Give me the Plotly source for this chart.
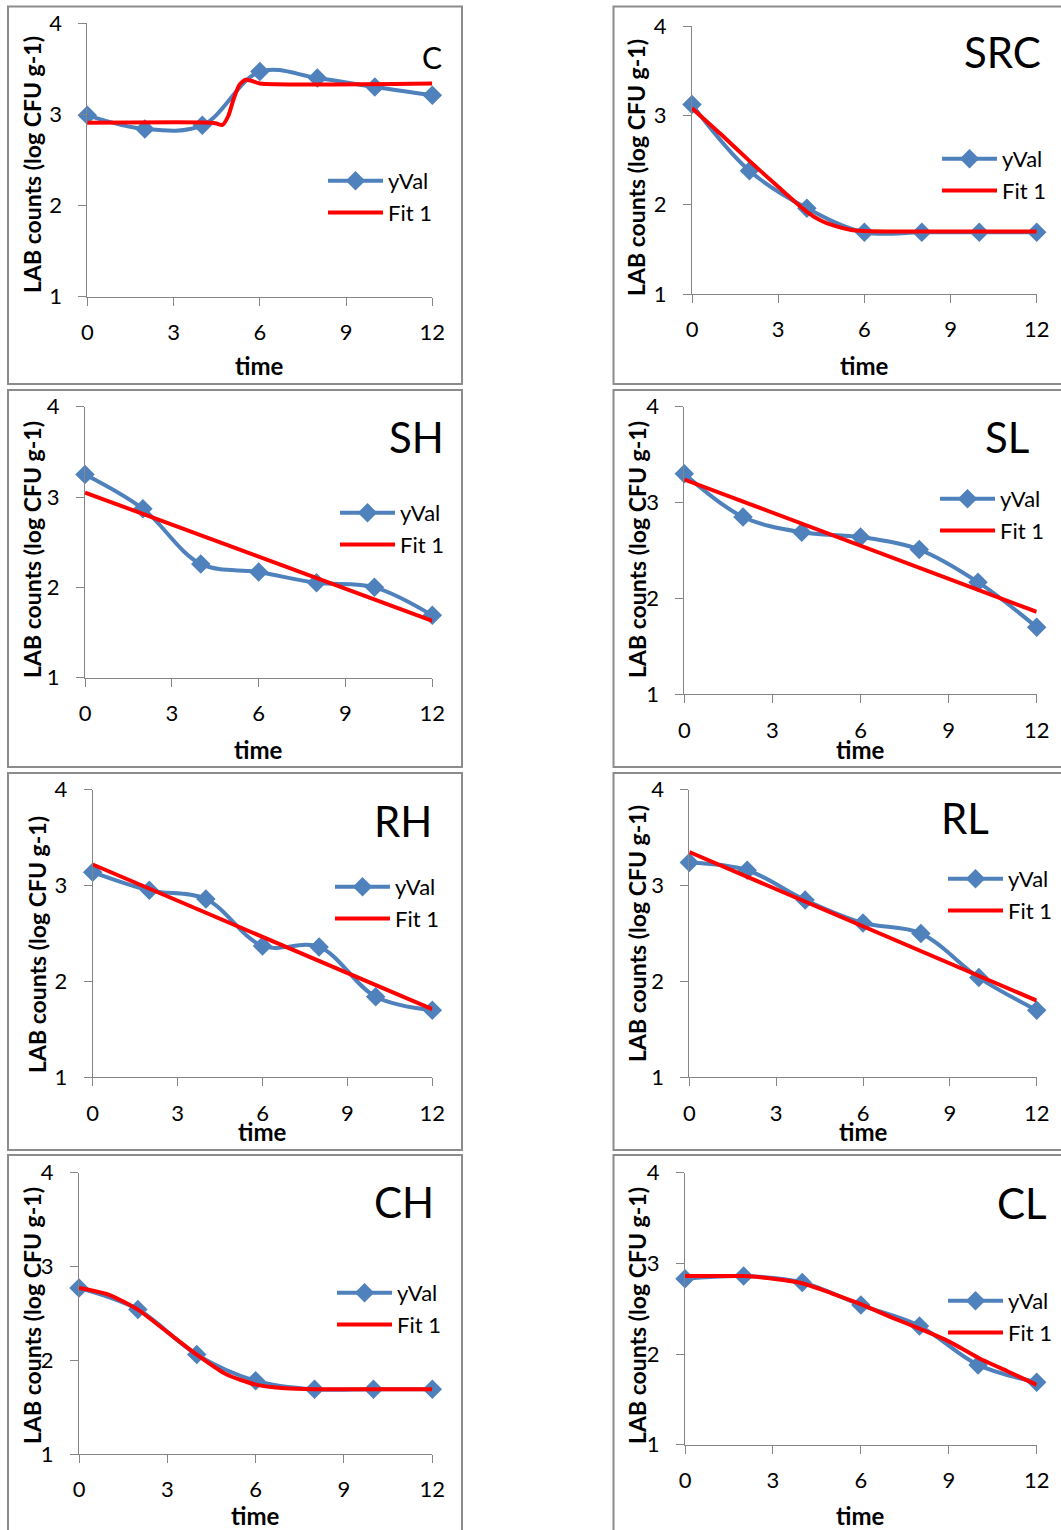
import plotly.graph_objects as go

# Sampling times (h) and measured LAB counts for each treatment
time_pts = [0, 2, 4, 6, 8, 10, 12]

panels = ["C", "SRC", "SH", "SL", "RH", "RL", "CH", "CL"]

yval_C = [2.99, 2.84, 2.88, 3.47, 3.40, 3.30, 3.21]
yval_SRC = [3.12, 2.38, 1.96, 1.69, 1.69, 1.69, 1.69]
yval_SH = [3.25, 2.87, 2.26, 2.17, 2.05, 2.00, 1.69]
yval_SL = [3.30, 2.85, 2.69, 2.64, 2.51, 2.17, 1.70]
yval_RH = [3.14, 2.95, 2.86, 2.37, 2.36, 1.84, 1.70]
yval_RL = [3.24, 3.16, 2.85, 2.61, 2.50, 2.04, 1.70]
yval_CH = [2.77, 2.54, 2.06, 1.78, 1.69, 1.69, 1.69]
yval_CL = [2.83, 2.86, 2.79, 2.54, 2.31, 1.88, 1.69]

# Fitted model curves (time, value) for each treatment
fit_x_C = [0, 4.3, 4.5, 4.7, 4.9, 5.1, 5.3, 5.5, 5.7, 6.0, 12]
fit_y_C = [2.91, 2.91, 2.90, 2.885, 2.98, 3.18, 3.33, 3.38, 3.37, 3.34, 3.34]
fit_x_SRC = [0, 1, 2, 3, 4, 4.5, 5, 5.5, 6, 7, 12]
fit_y_SRC = [3.08, 2.79, 2.49, 2.20, 1.92, 1.82, 1.76, 1.72, 1.705, 1.70, 1.70]
fit_x_SH = [0, 12]
fit_y_SH = [3.05, 1.63]
fit_x_SL = [0, 12]
fit_y_SL = [3.24, 1.86]
fit_x_RH = [0, 12]
fit_y_RH = [3.22, 1.71]
fit_x_RL = [0, 12]
fit_y_RL = [3.35, 1.80]
fit_x_CH = [0, 1, 2, 3, 4, 5, 6, 7, 8, 12]
fit_y_CH = [2.77, 2.70, 2.54, 2.30, 2.06, 1.85, 1.74, 1.70, 1.69, 1.69]
fit_x_CL = [0, 1, 2, 3, 4, 5, 6, 7, 8, 9, 10, 11, 12]
fit_y_CL = [2.86, 2.86, 2.86, 2.83, 2.78, 2.67, 2.55, 2.41, 2.28, 2.14, 1.96, 1.81, 1.66]

x_ticks = [0, 3, 6, 9, 12]
y_ticks = [1, 2, 3, 4]

yvals = [yval_C, yval_SRC, yval_SH, yval_SL, yval_RH, yval_RL, yval_CH, yval_CL]
fits_x = [fit_x_C, fit_x_SRC, fit_x_SH, fit_x_SL, fit_x_RH, fit_x_RL, fit_x_CH, fit_x_CL]
fits_y = [fit_y_C, fit_y_SRC, fit_y_SH, fit_y_SL, fit_y_RH, fit_y_RL, fit_y_CH, fit_y_CL]

W, H = 1061, 1530
FONT = "Lato"
BLUE = "#4F81BD"
RED = "#FF0000"
GREY = "#868686"

# Plot-area pixel boxes: (left, right, top, bottom)
areas = [
    (87.3, 432.3, 23.3, 296.7),
    (692.0, 1036.7, 26.0, 294.0),
    (85.0, 432.3, 406.7, 677.7),
    (684.3, 1036.7, 406.7, 694.3),
    (92.7, 432.3, 789.7, 1077.3),
    (689.3, 1036.7, 789.7, 1077.3),
    (79.0, 432.3, 1172.7, 1454.0),
    (685.0, 1036.7, 1172.7, 1444.7),
]
# y-title centre (x, y), panel label (right x, centre y, size), legend (left x, top y), time label y
ytitle_pos = [(32, 165), (636, 168), (32, 550), (637, 550), (37, 945), (637, 934), (32, 1316), (637, 1316)]
label_pos = [(444, 57, 30), (1043, 52, 42), (446, 437, 42), (1031, 437, 42),
             (434, 821, 42), (991, 818, 42), (436, 1202, 42), (1049, 1203, 42)]
legend_pos = [(323, 160), (937, 138), (335, 492), (935, 478), (330, 866), (943, 858), (332, 1272), (943, 1280)]
time_y = [365, 365, 749, 749, 1131, 1131, 1515, 1515]

# Chart boxes: (left, right, top, bottom)
boxes = [
    (8, 462, 6.5, 384), (613.5, 1075, 6.5, 384),
    (8, 462, 390, 767), (613.5, 1075, 390, 767),
    (8, 462, 773, 1150), (613.5, 1075, 773, 1150),
    (8, 462, 1155, 1545), (613.5, 1075, 1155, 1545),
]

fig = go.Figure()
layout = dict(
    width=W, height=H,
    margin=dict(l=0, r=0, t=0, b=0, pad=0, autoexpand=False),
    paper_bgcolor="white", plot_bgcolor="white",
    font=dict(family=FONT, size=20, color="black"),
    shapes=[], annotations=[],
)

for i, name in enumerate(panels):
    k = i + 1
    sfx = "" if k == 1 else str(k)
    leg = "legend" + sfx
    xl, xr, yt, yb = areas[i]

    fig.add_trace(go.Scatter(
        x=time_pts, y=yvals[i], name="yVal", mode="lines+markers",
        line=dict(color=BLUE, width=4, shape="spline", smoothing=1),
        marker=dict(symbol="diamond", size=15, color=BLUE),
        xaxis="x" + sfx, yaxis="y" + sfx, legend=leg, legendgroup="d%d" % k,
        cliponaxis=False,
    ))
    fig.add_trace(go.Scatter(
        x=fits_x[i], y=fits_y[i], name="Fit 1", mode="lines",
        line=dict(color=RED, width=4, shape="spline", smoothing=0.6),
        xaxis="x" + sfx, yaxis="y" + sfx, legend=leg, legendgroup="f%d" % k,
        cliponaxis=False,
    ))

    common = dict(showline=True, linecolor=GREY, linewidth=1, ticks="outside",
                  ticklen=8, tickcolor=GREY, tickwidth=1, showgrid=False,
                  zeroline=False, fixedrange=True, automargin=False,
                  tickfont=dict(family=FONT, size=22, color="black"))
    layout["xaxis" + sfx] = dict(
        domain=[xl / W, xr / W], range=[0, 12], tickvals=x_ticks,
        anchor="y" + sfx, ticklabelstandoff=8, **common)
    layout["yaxis" + sfx] = dict(
        domain=[1 - yb / H, 1 - yt / H], range=[1, 4], tickvals=y_ticks,
        anchor="x" + sfx, ticklabelstandoff=12, **common)

    lx, ly = legend_pos[i]
    layout[leg] = dict(
        x=lx / W, y=1 - ly / H, xanchor="left", yanchor="top",
        bgcolor="rgba(0,0,0,0)", font=dict(family=FONT, size=22, color="black"),
        itemwidth=55, tracegroupgap=3, traceorder="normal",
    )

    bx0, bx1, by0, by1 = boxes[i]
    layout["shapes"].append(dict(
        type="rect", xref="paper", yref="paper",
        x0=bx0 / W, x1=bx1 / W, y0=1 - by1 / H, y1=1 - by0 / H,
        line=dict(color="#8C8C8C", width=2), fillcolor="rgba(0,0,0,0)", layer="below",
    ))

    tx, ty = ytitle_pos[i]
    layout["annotations"].append(dict(
        text="<b>LAB counts (log CFU g-1)</b>", textangle=-90,
        x=tx / W, y=1 - ty / H, xref="paper", yref="paper",
        xanchor="center", yanchor="middle", showarrow=False,
        font=dict(family=FONT, size=23, color="black"),
    ))
    layout["annotations"].append(dict(
        text="<b>time</b>", x=((xl + xr) / 2) / W, y=1 - time_y[i] / H,
        xref="paper", yref="paper", xanchor="center", yanchor="middle",
        showarrow=False, font=dict(family=FONT, size=24, color="black"),
    ))
    px, py, ps = label_pos[i]
    layout["annotations"].append(dict(
        text=name, x=px / W, y=1 - py / H, xref="paper", yref="paper",
        xanchor="right", yanchor="middle", showarrow=False,
        font=dict(family=FONT, size=ps, color="black"),
    ))

fig.update_layout(**layout)
# Let the figure fill the page edge to edge
fig.write_html("out.html", post_script="document.body.style.margin='0';")
